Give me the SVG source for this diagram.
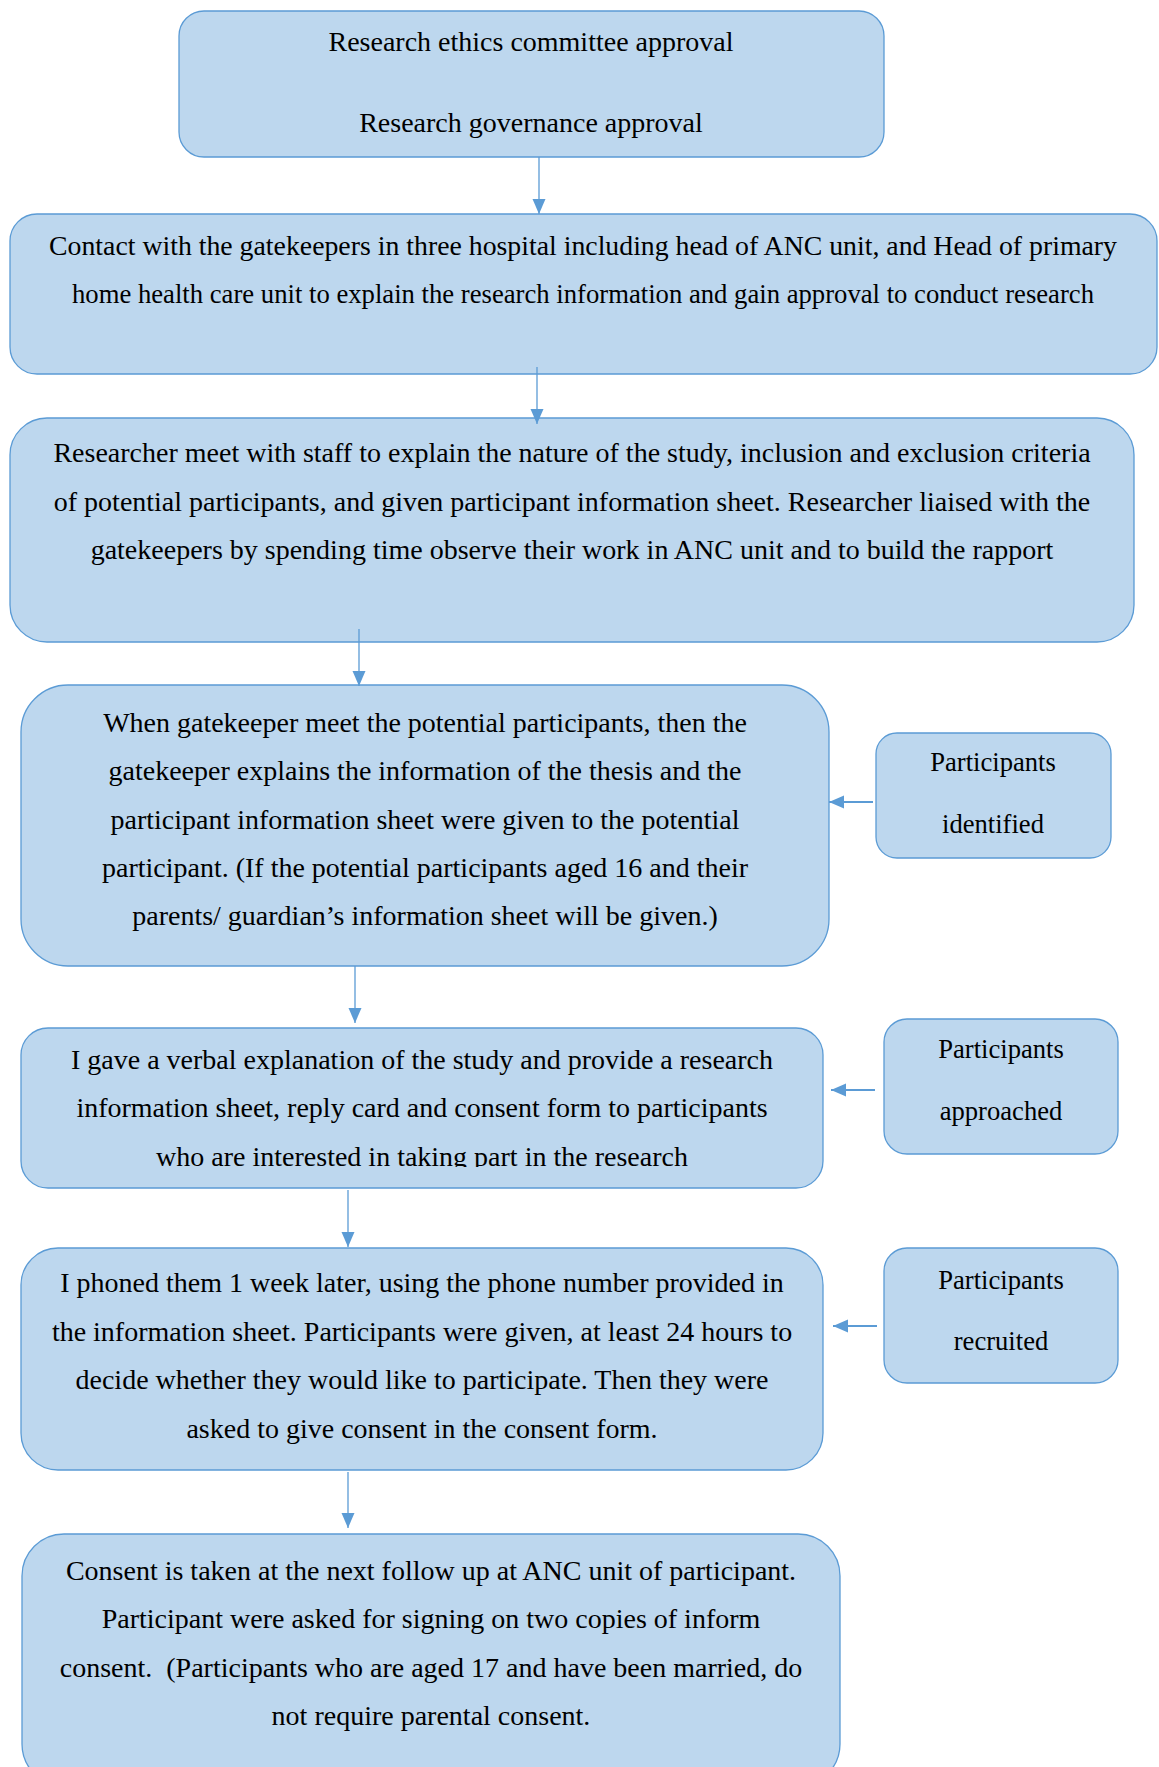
<svg xmlns="http://www.w3.org/2000/svg" width="1159" height="1767" viewBox="0 0 1159 1767">
<style>
.box{fill:#BDD7EE;stroke:#5B9BD5;stroke-width:1.3}
.t{font-family:"Liberation Serif","Times New Roman",serif;font-size:28px;fill:#000;text-anchor:middle}
.s{font-size:26.6px}
.c{stroke:#5B9BD5;fill:none}
.v{stroke-width:1.3}
.h{stroke-width:2.2}
</style>
<defs>
<marker id="ah" markerUnits="userSpaceOnUse" markerWidth="16" markerHeight="16" viewBox="0 0 16 16" refX="15" refY="8" orient="auto">
<path d="M0,1.5 L15,8 L0,14.5 Z" fill="#5B9BD5"/>
</marker>
<clipPath id="clip5"><rect x="0" y="1020" width="1159" height="147"/></clipPath>
</defs>

<g id="n1">
<rect class="box" x="179" y="11" width="705" height="146" rx="25" ry="25"/>
<text class="t" x="531" y="51">Research ethics committee approval</text>
<text class="t" x="531" y="132">Research governance approval</text>
</g>

<g id="n2">
<rect class="box" x="10" y="214" width="1147" height="160" rx="27" ry="27"/>
<text class="t" x="583" y="255" textLength="1068" lengthAdjust="spacingAndGlyphs">Contact with the gatekeepers in three hospital including head of ANC unit, and Head of primary</text>
<text class="t" x="583" y="303" textLength="1022" lengthAdjust="spacingAndGlyphs">home health care unit to explain the research information and gain approval to conduct research</text>
</g>

<g id="n3">
<rect class="box" x="10" y="418" width="1124" height="224" rx="37" ry="37"/>
<text class="t" x="572" y="462">Researcher meet with staff to explain the nature of the study, inclusion and exclusion criteria</text>
<text class="t" x="572" y="511">of potential participants, and given participant information sheet. Researcher liaised with the</text>
<text class="t" x="572" y="559">gatekeepers by spending time observe their work in ANC unit and to build the rapport</text>
</g>

<g id="n4">
<rect class="box" x="21" y="685" width="808" height="281" rx="47" ry="47"/>
<text class="t" x="425" y="732">When gatekeeper meet the potential participants, then the</text>
<text class="t" x="425" y="780">gatekeeper explains the information of the thesis and the</text>
<text class="t" x="425" y="829">participant information sheet were given to the potential</text>
<text class="t" x="425" y="877">participant. (If the potential participants aged 16 and their</text>
<text class="t" x="425" y="925">parents/ guardian’s information sheet will be given.)</text>
</g>

<g id="s1">
<rect class="box" x="876" y="733" width="235" height="125" rx="21" ry="21"/>
<text class="t s" x="993" y="771">Participants</text>
<text class="t s" x="993" y="833">identified</text>
</g>

<g id="n5">
<rect class="box" x="21" y="1028" width="802" height="160" rx="27" ry="27"/>
<text class="t" x="422" y="1069">I gave a verbal explanation of the study and provide a research</text>
<text class="t" x="422" y="1117">information sheet, reply card and consent form to participants</text>
<text class="t" x="422" y="1166" clip-path="url(#clip5)">who are interested in taking part in the research</text>
</g>

<g id="s2">
<rect class="box" x="884" y="1019" width="234" height="135" rx="23" ry="23"/>
<text class="t s" x="1001" y="1058">Participants</text>
<text class="t s" x="1001" y="1120">approached</text>
</g>

<g id="n6">
<rect class="box" x="21" y="1248" width="802" height="222" rx="37" ry="37"/>
<text class="t" x="422" y="1292">I phoned them 1 week later, using the phone number provided in</text>
<text class="t" x="422" y="1341">the information sheet. Participants were given, at least 24 hours to</text>
<text class="t" x="422" y="1389">decide whether they would like to participate. Then they were</text>
<text class="t" x="422" y="1438">asked to give consent in the consent form.</text>
</g>

<g id="s3">
<rect class="box" x="884" y="1248" width="234" height="135" rx="23" ry="23"/>
<text class="t s" x="1001" y="1289">Participants</text>
<text class="t s" x="1001" y="1350">recruited</text>
</g>

<g id="n7">
<rect class="box" x="22" y="1534" width="818" height="252" rx="42" ry="42"/>
<text class="t" x="431" y="1580">Consent is taken at the next follow up at ANC unit of participant.</text>
<text class="t" x="431" y="1628">Participant were asked for signing on two copies of inform</text>
<text class="t" x="431" y="1677">consent. &#160;(Participants who are aged 17 and have been married, do</text>
<text class="t" x="431" y="1725">not require parental consent.</text>
</g>

<g id="connectors">
<line class="c v" x1="539" y1="157" x2="539" y2="214" marker-end="url(#ah)"/>
<line class="c v" x1="537" y1="367" x2="537" y2="424" marker-end="url(#ah)"/>
<line class="c v" x1="359" y1="629" x2="359" y2="686" marker-end="url(#ah)"/>
<line class="c v" x1="355" y1="966" x2="355" y2="1023" marker-end="url(#ah)"/>
<line class="c v" x1="348" y1="1190" x2="348" y2="1247" marker-end="url(#ah)"/>
<line class="c v" x1="348" y1="1472" x2="348" y2="1528" marker-end="url(#ah)"/>
<line class="c h" x1="873" y1="802" x2="829" y2="802" marker-end="url(#ah)"/>
<line class="c h" x1="875" y1="1090" x2="831" y2="1090" marker-end="url(#ah)"/>
<line class="c h" x1="877" y1="1326" x2="833" y2="1326" marker-end="url(#ah)"/>
</g>
</svg>
